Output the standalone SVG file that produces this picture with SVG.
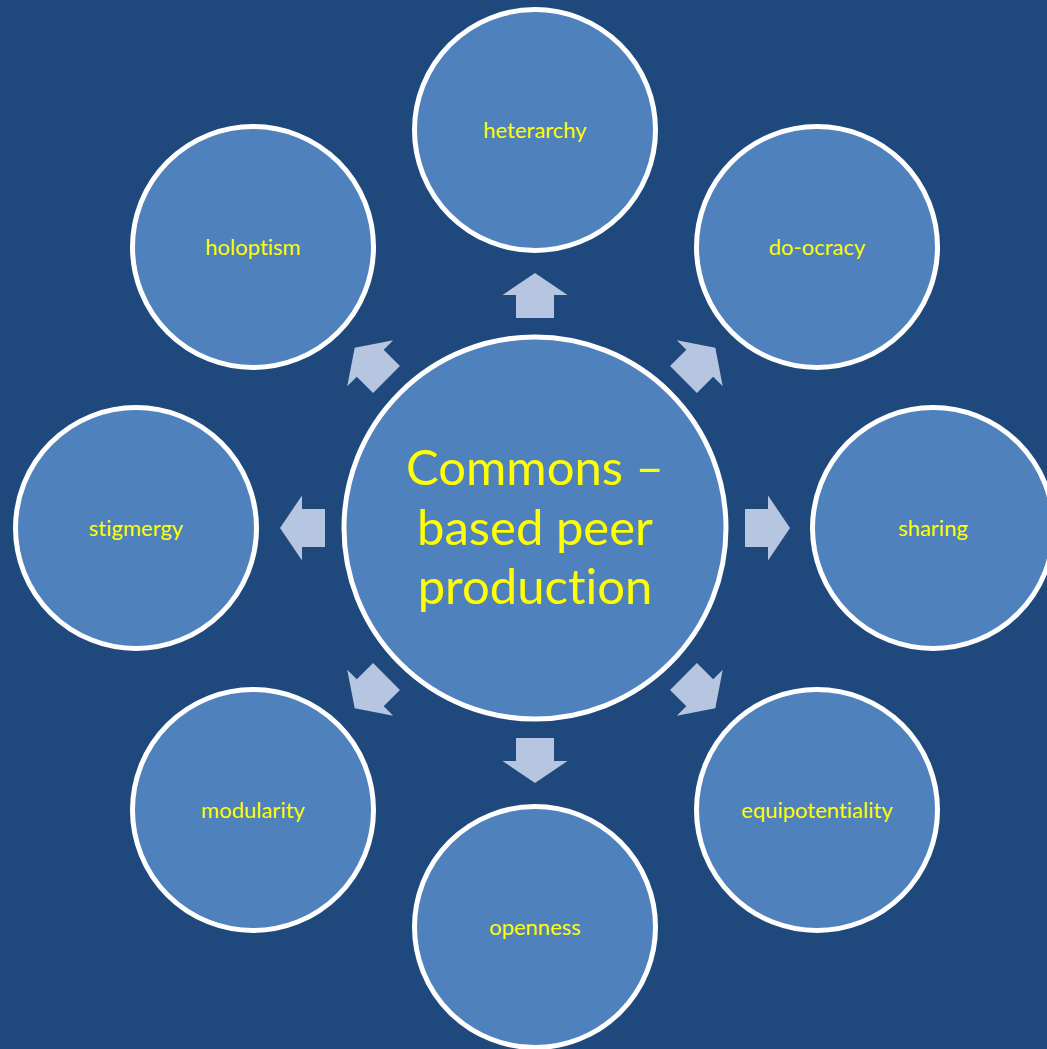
<svg xmlns="http://www.w3.org/2000/svg" xmlns:xlink="http://www.w3.org/1999/xlink" width="1047" height="1049" viewBox="0 0 1047 1049">
<style>
.node circle{fill:#4F81BD;stroke:#FFFFFF;stroke-width:5}
.lbl{font-family:Lato,"Open Sans","Liberation Sans",sans-serif;font-size:22px;fill:#FFFF00;text-anchor:middle;font-variant-ligatures:none}
.big{font-family:Lato,"Open Sans","Liberation Sans",sans-serif;font-size:49px;fill:#FFFF00;text-anchor:middle;font-variant-ligatures:none}
.arr{fill:#B7C6E0}
</style>
<defs>
<path id="arrow" d="M535 273 L567.5 295 L554 295 L554 318 L516 318 L516 295 L502.5 295 Z"/>
</defs>
<rect width="1047" height="1049" fill="#1F497D"/>
<g id="connectors" class="arr">
<use xlink:href="#arrow"/>
<use xlink:href="#arrow" transform="rotate(45 535 528)"/>
<use xlink:href="#arrow" transform="rotate(90 535 528)"/>
<use xlink:href="#arrow" transform="rotate(135 535 528)"/>
<use xlink:href="#arrow" transform="rotate(180 535 528)"/>
<use xlink:href="#arrow" transform="rotate(225 535 528)"/>
<use xlink:href="#arrow" transform="rotate(270 535 528)"/>
<use xlink:href="#arrow" transform="rotate(315 535 528)"/>
</g>
<g id="center" class="node"><circle cx="535" cy="528" r="191"/>
<text class="big"><tspan x="535" y="485">Commons –</tspan><tspan x="535" y="545">based peer</tspan><tspan x="535" y="604">production</tspan></text></g>
<g id="heterarchy" class="node"><circle cx="535" cy="130" r="120.5"/><text class="lbl" x="535" y="138">heterarchy</text></g>
<g id="do-ocracy" class="node"><circle cx="817" cy="247" r="120.5"/><text class="lbl" x="817" y="255">do-ocracy</text></g>
<g id="sharing" class="node"><circle cx="933" cy="528" r="120.5"/><text class="lbl" x="933" y="536">sharing</text></g>
<g id="equipotentiality" class="node"><circle cx="817" cy="810" r="120.5"/><text class="lbl" x="817" y="818">equipotentiality</text></g>
<g id="openness" class="node"><circle cx="535" cy="927" r="120.5"/><text class="lbl" x="535" y="935">openness</text></g>
<g id="modularity" class="node"><circle cx="253" cy="810" r="120.5"/><text class="lbl" x="253" y="818">modularity</text></g>
<g id="stigmergy" class="node"><circle cx="136" cy="528" r="120.5"/><text class="lbl" x="136" y="536">stigmergy</text></g>
<g id="holoptism" class="node"><circle cx="253" cy="247" r="120.5"/><text class="lbl" x="253" y="255">holoptism</text></g>
</svg>
